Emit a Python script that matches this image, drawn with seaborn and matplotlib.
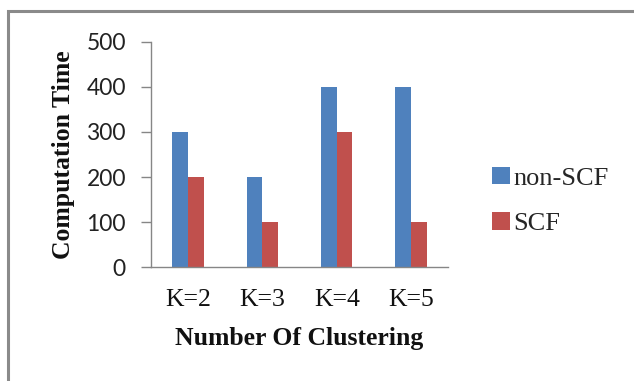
import matplotlib
matplotlib.use("Agg")
import matplotlib.pyplot as plt
import seaborn as sns
import pandas as pd
from matplotlib.patches import Rectangle

categories = ["K=2", "K=3", "K=4", "K=5"]
non_scf = [300, 200, 400, 400]
scf = [200, 100, 300, 100]
series_names = ["non-SCF", "SCF"]
y_ticks = [0, 100, 200, 300, 400, 500]

df = pd.DataFrame({
    "k": categories * 2,
    "time": non_scf + scf,
    "method": [series_names[0]] * len(categories) + [series_names[1]] * len(categories),
})

sns.set_theme(style="white")
serif = ["Liberation Serif", "DejaVu Serif"]
sans = ["Lato", "DejaVu Sans"]

fig = plt.figure(figsize=(6.34, 3.81), dpi=100)
ax = fig.add_axes([0.238, 0.299, 0.469, 0.591])

sns.barplot(data=df, x="k", y="time", hue="method",
            palette=["#4F81BD", "#C0504D"], width=0.42, saturation=1,
            ax=ax, errorbar=None, linewidth=0)

ax.set_ylim(0, 500)
ax.set_yticks(y_ticks)
ax.set_xlim(-0.5, 3.5)
for s in ["top", "right"]:
    ax.spines[s].set_visible(False)
for s in ["left", "bottom"]:
    ax.spines[s].set_color("#868686")
    ax.spines[s].set_linewidth(1.0)
ax.tick_params(axis="y", direction="out", length=7, color="#868686", width=1, pad=11,
               left=True)
ax.tick_params(axis="x", length=0, pad=16)
for lbl in ax.get_yticklabels():
    lbl.set_family(sans)
    lbl.set_fontsize(16.5)
    lbl.set_color("#222222")
for lbl in ax.get_xticklabels():
    lbl.set_family(serif)
    lbl.set_fontsize(18.5)
    lbl.set_color("#111111")

ax.set_xlabel("Number Of Clustering", family=serif, fontsize=18.5, fontweight="bold",
              color="#111111", labelpad=11)
ax.set_ylabel("Computation Time", family=serif, fontsize=18.5, fontweight="bold",
              color="#111111", labelpad=8)

leg = ax.legend(loc="upper left", bbox_to_anchor=(0.76, 0.59), bbox_transform=fig.transFigure,
                frameon=False, prop={"family": serif, "size": 19},
                handlelength=0.65, handleheight=0.65, handletextpad=0.15, labelspacing=0.85,
                borderaxespad=0)

fig.patches.append(Rectangle((8 / 634, -0.1), 1.2, 1 - 11 / 381 + 0.1,
                             transform=fig.transFigure, fill=False,
                             edgecolor="#8a8a8a", linewidth=2.2, figure=fig))

fig.savefig("out.png", dpi=100)
